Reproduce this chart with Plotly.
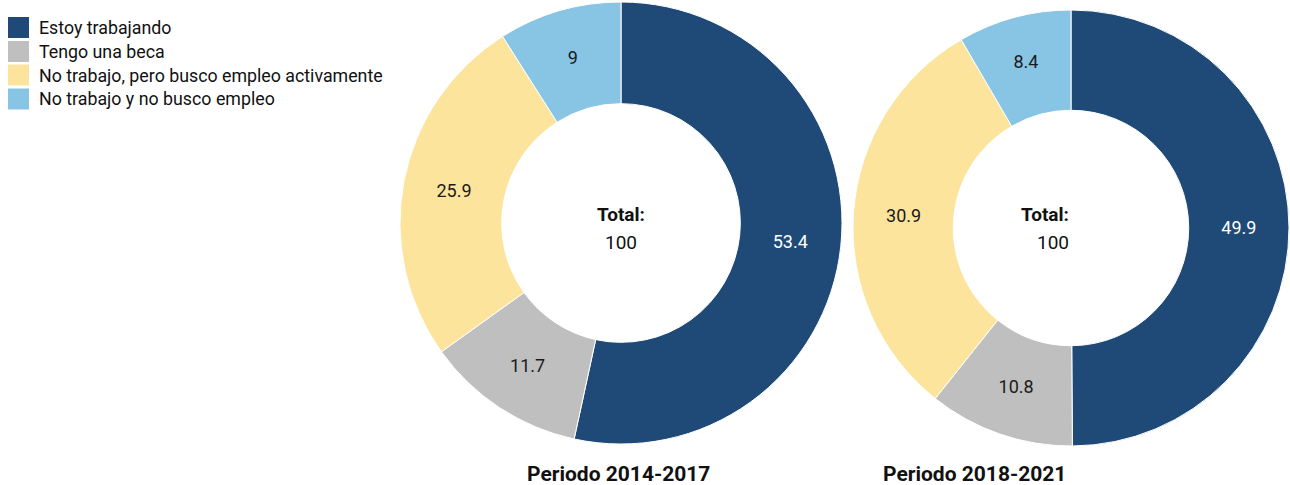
import plotly.graph_objects as go

categories = ["Estoy trabajando", "Tengo una beca",
              "No trabajo, pero busco empleo activamente",
              "No trabajo y no busco empleo"]
values_2014_2017 = [53.4, 11.7, 25.9, 9]
values_2018_2021 = [49.9, 10.8, 30.9, 8.4]
period_titles = ["Periodo 2014-2017", "Periodo 2018-2021"]
total_label = "Total:"
total_value = "100"

colors = ["#1f4a78", "#bfbfbf", "#fde49c", "#88c4e3"]
text_colors = ["white", "#1a1a1a", "#1a1a1a", "#1a1a1a"]
FONT = "Roboto, Noto Sans, sans-serif"

W, H = 1290, 485


def px(x):
    return min(max(x / W, 0), 1)


def py(y):
    return min(max(1 - y / H, 0), 1)


# donut geometry in page pixels: center x, center y, outer radius
geo = [(621, 223, 221), (1071, 228, 218)]

fig = go.Figure()
for i, (vals, (cx, cy, r)) in enumerate(zip([values_2014_2017, values_2018_2021], geo)):
    fig.add_trace(go.Pie(
        labels=categories, values=vals, hole=0.54, sort=False,
        direction="clockwise", rotation=0,
        marker=dict(colors=colors, line=dict(color="white", width=1)),
        texttemplate="%{value}", textposition="inside",
        insidetextorientation="horizontal",
        textfont=dict(family=FONT, size=18, color=text_colors),
        domain=dict(x=[px(cx - r), px(cx + r)], y=[py(cy + r), py(cy - r)]),
        showlegend=False, hoverinfo="label+value",
    ))
    fig.add_annotation(x=px(cx), y=py(214), xref="paper", yref="paper",
                       yanchor="middle", text="<b>" + total_label + "</b>",
                       showarrow=False,
                       font=dict(family=FONT, size=19, color="#111"))
    fig.add_annotation(x=px(cx), y=py(242), xref="paper", yref="paper",
                       yanchor="middle", text=total_value, showarrow=False,
                       font=dict(family=FONT, size=19, color="#111"))
    fig.add_annotation(x=px(cx - 3), y=py(474), xref="paper", yref="paper",
                       yanchor="middle", text="<b>" + period_titles[i] + "</b>",
                       showarrow=False,
                       font=dict(family=FONT, size=21, color="#111"))

# custom legend (large square swatches like the reference)
row_centers = [27.5, 51.5, 75, 99]
for name, col, yc in zip(categories, colors, row_centers):
    fig.add_shape(type="rect", xref="paper", yref="paper",
                  x0=px(8), x1=px(29), y0=py(yc + 10.5), y1=py(yc - 10.5),
                  fillcolor=col, line=dict(width=0))
    fig.add_annotation(x=px(37), y=py(yc), xref="paper", yref="paper",
                       xanchor="left", yanchor="middle", text=name,
                       showarrow=False,
                       font=dict(family=FONT, size=17.8, color="#111"))

fig.update_layout(
    width=W, height=H, margin=dict(l=0, r=0, t=0, b=0),
    paper_bgcolor="white", plot_bgcolor="white",
    font=dict(family=FONT, size=15, color="#111"),
    showlegend=False,
)
fig.write_html("out.html", config={"displayModeBar": False},
               post_script="document.body.style.margin='0';document.body.style.overflow='hidden';")
